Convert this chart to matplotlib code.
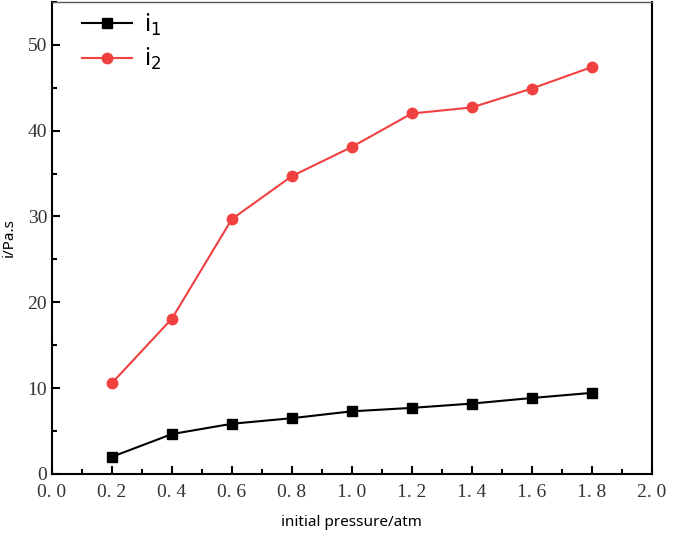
import numpy as np
import matplotlib.pyplot as plt
from matplotlib.ticker import MultipleLocator, FuncFormatter

# data
pressure = [0.2, 0.4, 0.6, 0.8, 1.0, 1.2, 1.4, 1.6, 1.8]
i1 = [2.0, 4.65, 5.85, 6.5, 7.3, 7.7, 8.2, 8.85, 9.45]
i2 = [10.6, 18.1, 29.7, 34.7, 38.1, 42.0, 42.7, 44.9, 47.4]

fig = plt.figure(figsize=(6.74, 5.47), dpi=100)
ax = fig.add_axes([0.0772, 0.1335, 0.8895, 0.863])

ax.plot(pressure, i1, color='black', marker='s', markersize=7, lw=1.5, label='i$_1$')
ax.plot(pressure, i2, color='#f04040', marker='o', markersize=7.5, lw=1.5, label='i$_2$')

ax.set_xlim(0, 2.0)
ax.set_ylim(0, 55)
ax.xaxis.set_major_locator(MultipleLocator(0.2))
ax.xaxis.set_minor_locator(MultipleLocator(0.1))
ax.yaxis.set_major_locator(MultipleLocator(10))
ax.yaxis.set_minor_locator(MultipleLocator(5))
ax.xaxis.set_major_formatter(FuncFormatter(lambda v, p: f"{v:.1f}".replace('.', '. ')))

ax.tick_params(which='both', direction='in', width=1.5)
ax.tick_params(which='major', length=6)
ax.tick_params(which='minor', length=3.5)
for lab in ax.get_xticklabels() + ax.get_yticklabels():
    lab.set_fontfamily('Liberation Serif')
    lab.set_fontsize(14)
    lab.set_color('#333333')
ax.tick_params(axis='x', pad=7)

for s in ['left', 'bottom', 'right']:
    ax.spines[s].set_linewidth(1.5)
ax.spines['top'].set_linewidth(1.0)
ax.spines['top'].set_color('#555555')

ax.set_xlabel('initial pressure/atm', fontfamily='Noto Sans', fontsize=11, labelpad=10)
ax.set_ylabel('i/Pa.s', fontfamily='Noto Sans', fontsize=11, labelpad=8)

ax.legend(loc='upper left', frameon=False, prop={'family': 'Noto Sans', 'size': 17},
          handlelength=2.1, handletextpad=0.5, borderaxespad=0.0,
          bbox_to_anchor=(0.035, 1.0), labelspacing=0.35)

fig.savefig('out.png', dpi=100)
